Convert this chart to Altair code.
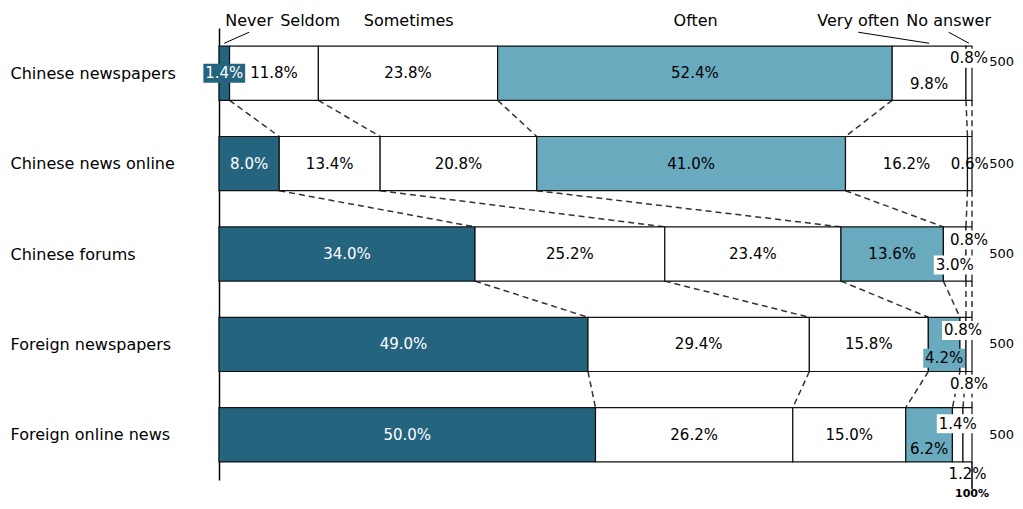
import altair as alt
import pandas as pd

rows = ["Chinese newspapers", "Chinese news online", "Chinese forums",
        "Foreign newspapers", "Foreign online news"]
cats = ["Never", "Seldom", "Sometimes", "Often", "Very often", "No answer"]

never = [1.4, 8.0, 34.0, 49.0, 50.0]
seldom = [11.8, 13.4, 25.2, 29.4, 26.2]
sometimes = [23.8, 20.8, 23.4, 15.8, 15.0]
often = [52.4, 41.0, 13.6, 4.2, 6.2]
very_often = [9.8, 16.2, 3.0, 0.8, 1.4]
no_answer = [0.8, 0.6, 0.8, 0.8, 1.2]
n_resp = ["500", "500", "500", "500", "500"]

# header label positions (percent along the bar) for the category names
header_x = [4.0, 12.1, 25.2, 63.3, 84.9, 96.9]
leader_cats = ["Never", "Very often", "No answer"]

DARK = "#25647f"
LIGHT = "#6aaabf"
colors = [DARK, "#ffffff", "#ffffff", LIGHT, "#ffffff", "#ffffff"]

PX = 90.6  # pixels per row unit
place = {
    (0, "Never"): (0, "dark"),
    (0, "Very often"): (11, None),
    (0, "No answer"): (-15, "white"),
    (2, "Very often"): (11, "white"),
    (2, "No answer"): (-14, "white"),
    (3, "Often"): (14, "light"),
    (3, "Very often"): (-14, "white"),
    (3, "No answer"): (40, "white"),
    (4, "Often"): (14, None),
    (4, "Very often"): (-11, "white"),
    (4, "No answer"): (39.5, None),
}

series = [never, seldom, sometimes, often, very_often, no_answer]
HALF = 0.3

seg_recs, conn_recs = [], []
cums = []
for r, row in enumerate(rows):
    start = 0.0
    cum = []
    for c, cat in enumerate(cats):
        v = float(series[c][r])
        end = start + v
        dy, box = place.get((r, cat), (0, None))
        seg_recs.append(dict(
            rowname=row, ri=r, cat=cat, x0=start, x1=end, mid=(start + end) / 2,
            y0=r - HALF, y1=r + HALF, ylab=r + dy / PX,
            label=f"{v:.1f}%", tc=("w" if cat == "Never" else "b"),
            box=(box if box else "none")))
        start = end
        cum.append(end)
    cums.append(cum)
for r in range(len(rows) - 1):
    for k in range(len(cats)):
        conn_recs.append(dict(xa=cums[r][k], xb=cums[r + 1][k],
                              ya=r + HALF, yb=r + 1 - HALF))

seg = pd.DataFrame(seg_recs)
conn = pd.DataFrame(conn_recs)

first = seg[seg.ri == 0].reset_index(drop=True)
head = pd.DataFrame(dict(cat=cats, hx=header_x, target=list(first.mid)))
head["hy"] = -0.574
head["ly0"] = -0.453
head["ly1"] = -0.331
lead = head[head.cat.isin(leader_cats)].reset_index(drop=True)

ndf = pd.DataFrame(dict(ri=list(range(len(rows))), n=n_resp))
ndf["xn"] = 102.3
ndf["yn"] = [r + (-11 / PX if r == 0 else 0) for r in range(len(rows))]

end_df = pd.DataFrame(dict(xe=[100.0], ye0=[4.3], ye1=[4.6], yel=[4.713], t=["100%"]))

FONT = "DejaVu Sans"
xs = alt.Scale(domain=[0, 100], nice=False, zero=False)
ys = alt.Scale(domain=[-0.5, 4.5], nice=False, zero=False, reverse=True)
label_expr = "[" + ",".join(f"'{r}'" for r in rows) + "][datum.value]"

yaxis = alt.Axis(values=[0, 1, 2, 3, 4], labelExpr=label_expr, ticks=False, grid=False,
                 title=None, labelAlign="left", labelPadding=209, labelFontSize=16,
                 labelFont=FONT, labelColor="#000000", domainColor="#000000",
                 domainWidth=1.5, labelBaseline="middle")


def X(f):
    return alt.X(f, type="quantitative", scale=xs, axis=None)


def Y(f):
    return alt.Y(f, type="quantitative", scale=ys, axis=yaxis)


bars = alt.Chart(seg).mark_rect(stroke="#111111", strokeWidth=1.2).encode(
    x=X("x0"), x2="x1", y=Y("y0"), y2="y1",
    color=alt.Color("cat:N", scale=alt.Scale(domain=cats, range=colors), legend=None),
)

connectors = alt.Chart(conn).mark_rule(strokeDash=[6, 4], color="#333333", strokeWidth=1.5).encode(
    x=X("xa"), x2="xb", y=Y("ya"), y2="yb",
)

BOX_SHAPE = "M-2.2,-1H2.2V1H-2.2Z"


def box_layer(kind, fill):
    return alt.Chart(seg[seg.box == kind].reset_index(drop=True)).mark_point(
        shape=BOX_SHAPE, filled=True, size=361, opacity=1, color=fill
    ).encode(x=X("mid"), y=Y("ylab"))


boxes = [box_layer("dark", DARK), box_layer("light", LIGHT), box_layer("white", "#ffffff")]

labels_black = alt.Chart(seg[seg.tc == "b"].reset_index(drop=True)).mark_text(
    font=FONT, fontSize=15, baseline="middle", color="#000000").encode(
    x=X("mid"), y=Y("ylab"), text="label:N")
labels_white = alt.Chart(seg[seg.tc == "w"].reset_index(drop=True)).mark_text(
    font=FONT, fontSize=15, baseline="middle", color="#ffffff").encode(
    x=X("mid"), y=Y("ylab"), text="label:N")

headers = alt.Chart(head).mark_text(font=FONT, fontSize=16, baseline="middle", color="#000000").encode(
    x=X("hx"), y=Y("hy"), text="cat:N",
)

leaders = alt.Chart(lead).mark_rule(color="#000000", strokeWidth=1).encode(
    x=X("hx"), x2="target", y=Y("ly0"), y2="ly1",
)

ntext = alt.Chart(ndf).mark_text(font=FONT, fontSize=13, baseline="middle", align="left",
                                 color="#000000").encode(
    x=X("xn"), y=Y("yn"), text="n:N",
)

end_rule = alt.Chart(end_df).mark_rule(color="#000000", strokeWidth=1.5).encode(
    x=X("xe"), y=Y("ye0"), y2="ye1",
)
end_text = alt.Chart(end_df).mark_text(font=FONT, fontSize=11, baseline="bottom",
                                       fontWeight="bold", color="#000000").encode(
    x=X("xe"), y=Y("yel"), text="t:N",
)

chart = alt.layer(
    connectors, bars, *boxes, labels_black, labels_white, headers, leaders,
    ntext, end_rule, end_text
).properties(
    width=753, height=452,
    autosize=alt.AutoSizeParams(type="none"),
    padding={"left": 211, "top": 20, "right": 43, "bottom": 21},
).configure_view(strokeWidth=0)

chart.save("out.html", embed_options={"renderer": "svg", "actions": False})
